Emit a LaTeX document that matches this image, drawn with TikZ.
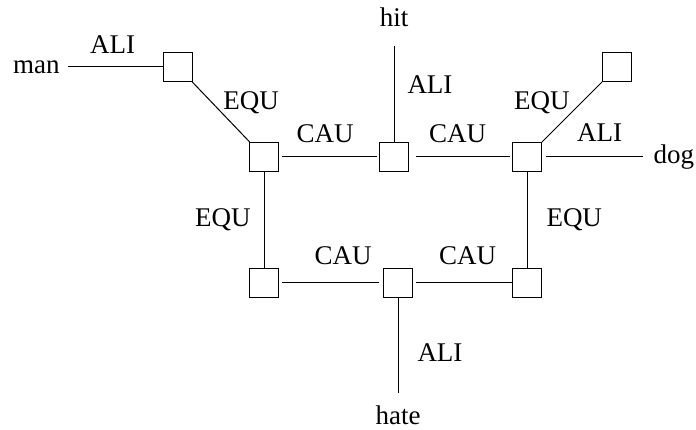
\documentclass[tikz,border=0pt]{standalone}
\usepackage{fontspec}
\setmainfont{Liberation Serif}
\usetikzlibrary{positioning}

\tikzset{
  concept/.style={draw, line width=1pt, minimum size=29pt, inner sep=0pt},
  lab/.style={inner sep=0pt},
  word/.style={inner sep=0pt},
  hgap/.style={shorten <=3pt, shorten >=2pt}
}

\begin{document}
\begin{tikzpicture}[x=1pt, y=-1pt, on grid, line width=1pt,
    font=\fontsize{27}{32}\selectfont]
    \useasboundingbox (0,0) rectangle (696,430);

    \node[concept] (B) at (264,157) {};
    \node[concept] (C) [right=130pt of B] {};
    \node[concept] (D) [right=133pt of C] {};
    \node[concept] (A) [above left=90pt and 86pt of B] {};
    \node[concept] (E) [above right=90pt and 90pt of D] {};
    \node[concept] (F) [below=126pt of B] {};
    \node[concept] (G) [right=134pt of F] {};
    \node[concept] (H) [below=126pt of D] {};

    % loose ends
    \coordinate[left=110pt of A] (manend);
    \coordinate[above=111pt of C] (hitend);
    \coordinate[right=116pt of D] (dogend);
    \coordinate[below=110pt of G] (hateend);

    \node[word] (man) [left=8pt of manend] {man};
    \node[word] (hit) [above=19pt of hitend] {hit};
    \node[word] (dog) [right=10pt of dogend] {dog};
    \node[word] (hate) [below=12pt of hateend] {hate};

    \draw (manend) -- node[lab, above=13pt, xshift=-3pt] {ALI} (A);
    \draw (A) -- node[lab, above right=-2pt and 2pt] {EQU} (B);
    \draw[hgap] (B) -- node[lab, above=14pt, xshift=-4pt] {CAU} (C);
    \draw (C) -- node[lab, pos=0.6, right=13pt] {ALI} (hitend);
    \draw[hgap, shorten <=7pt] (C) -- node[lab, above=14pt, xshift=-3pt] {CAU} (D);
    \draw (D) -- node[lab, above left=-2pt and 2pt] {EQU} (E);
    \draw[shorten <=4pt] (D) -- node[lab, above=15pt, xshift=7pt] {ALI} (dogend);
    \draw (B) -- node[lab, left=13pt] {EQU} (F);
    \draw (D) -- node[lab, right=19pt] {EQU} (H);
    \draw[hgap, shorten >=4pt] (F) -- node[lab, above=18pt, xshift=12pt] {CAU} (G);
    \draw[hgap, shorten >=0pt] (G) -- node[lab, above=18pt, xshift=5pt] {CAU} (H);
    \draw (G) -- node[lab, pos=0.57, right=19pt] {ALI} (hateend);
\end{tikzpicture}
\end{document}
